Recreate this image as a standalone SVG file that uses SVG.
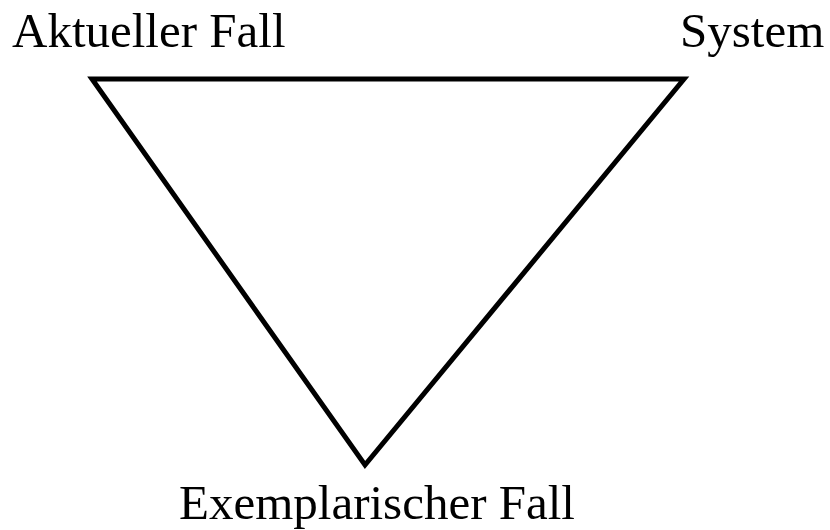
<svg xmlns="http://www.w3.org/2000/svg" width="830" height="530" viewBox="0 0 830 530">
<style>
.lbl{font-family:"Liberation Serif","Times New Roman",serif;font-size:49px;fill:#000}
.edge{fill:none;stroke:#000;stroke-width:5;stroke-linejoin:miter;stroke-miterlimit:10}
</style>
<rect width="830" height="530" fill="#fff"/>
<g id="connectors">
<path class="edge" d="M92,79 L684,79 L365,465 Z"/>
</g>
<g id="node-aktueller"><text class="lbl" x="12" y="47">Aktueller Fall</text></g>
<g id="node-system"><text class="lbl" x="680" y="47">System</text></g>
<g id="node-exemplarisch"><text class="lbl" x="179" y="519">Exemplarischer Fall</text></g>
</svg>
